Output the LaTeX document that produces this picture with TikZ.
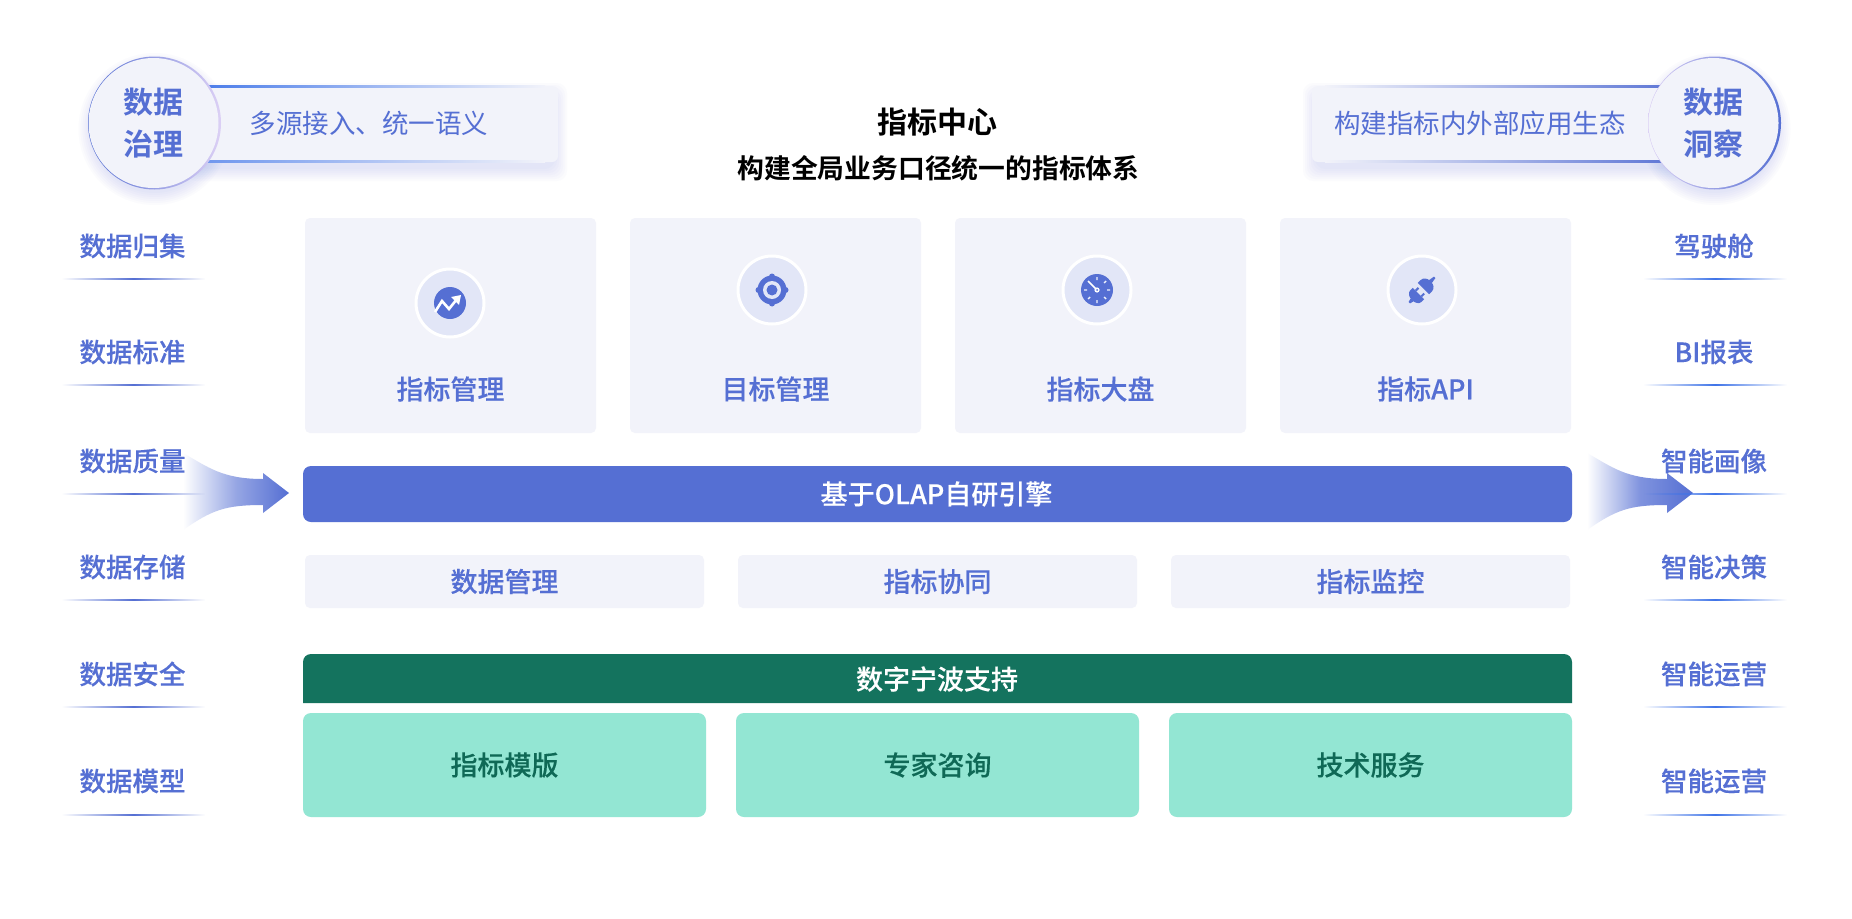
\documentclass[tikz,border=0pt]{standalone}
\usepackage{fontspec}
\setmainfont{Noto Sans CJK SC Medium}[FakeBold=0.2]
\newfontfamily\cjklight{Noto Sans CJK SC}
\newfontfamily\cjkbold{Noto Sans CJK SC Bold}
\usetikzlibrary{
  calc,
  fadings,
  positioning,
}
\definecolor{barblue}{RGB}{85, 111, 211}
\definecolor{lineblue}{RGB}{63, 116, 232}
\definecolor{paleblue}{RGB}{242, 243, 250}
\definecolor{iconblue}{RGB}{226, 230, 247}
\definecolor{darkgreen}{RGB}{20, 115, 94}
\definecolor{textgreen}{RGB}{15, 105, 86}
\definecolor{lightgreen}{RGB}{147, 230, 211}
\definecolor{ringviolet}{RGB}{220, 208, 245}
\tikzfading[name=linefade, left color=transparent!100, right color=transparent!100, middle color=transparent!0]
\tikzstyle{base} = [rectangle, inner sep=0, outer sep=0]
\tikzstyle{cardbox} = [base, fill=paleblue, rounded corners=5pt, minimum width=291, minimum height=215]
\tikzstyle{toolbox} = [base, fill=paleblue, rounded corners=5pt, minimum width=399, minimum height=53, text=barblue, font=\fontsize{27}{32}\selectfont]
\tikzstyle{greenbox} = [base, fill=lightgreen, rounded corners=8pt, minimum width=403, minimum height=104, text=textgreen, font=\fontsize{27}{32}\selectfont]
\tikzstyle{cardtext} = [base, text=barblue, font=\fontsize{27}{32}\selectfont]
\tikzstyle{sidetext} = [base, text=barblue, font=\fontsize{26.5}{32}\selectfont]
\tikzstyle{bartext} = [base, text=white, font=\fontsize{27}{32}\selectfont]
\tikzstyle{iconring} = [circle, inner sep=0, fill=iconblue, draw=white, line width=3pt, minimum size=68]
\tikzstyle{pill} = [base, fill=paleblue, rounded corners=6pt, minimum height=76, text=barblue]
\tikzstyle{glow} = [barblue, opacity=0.022]
\tikzstyle{orbbase} = [circle, inner sep=0, minimum size=133]
\tikzstyle{orbtext} = [circle, inner sep=0, minimum size=130, fill=paleblue, text=barblue, align=center, font=\cjkbold\fontsize{30}{42}\selectfont]
\tikzstyle{underline} = [barblue, path fading=linefade, fit fading=false, fading transform={xshift=133.5pt, xscale=2.86, yscale=20}]
\tikzstyle{underlineb} = [lineblue, path fading=linefade, fit fading=false, fading transform={xshift=1715pt, xscale=2.86, yscale=20}]

\begin{document}
\begin{tikzpicture}[x=1pt, y=-1pt, node distance=0mm and 34pt]
  \useasboundingbox[fill=white] (0,0) rectangle (1852,918);

  % flow arrows
  \shade[left color=white, right color=barblue, middle color=barblue!62!white] (183,453) .. controls (208,467) and (222,479) .. (263,479) -- (263,473) -- (289,493) -- (263,513) -- (263,505) .. controls (225,505) and (212,510) .. (183,530) -- cycle;
  \shade[left color=white, right color=barblue, middle color=barblue!75!white] (1587,453) .. controls (1612,467) and (1626,479) .. (1667,479) -- (1667,473) -- (1693,493) -- (1667,513) -- (1667,505) .. controls (1629,505) and (1616,510) .. (1587,530) -- cycle;

  % soft glow under the header
  \foreach \s in {2,4,...,14} {
    \fill[glow, rounded corners=10pt] (200-\s,97-\s) rectangle (553+\s,167+\s);
    \fill[glow, rounded corners=10pt] (1317-\s,97-\s) rectangle (1670+\s,167+\s);
    \fill[glow] (154.5,129) circle (62+\s);
    \fill[glow] (1714.5,129) circle (62+\s);
  }

  % header pills
  \node[pill, minimum width=378, anchor=west] (sourcepill) at (180,124) {};
  \node[pill, minimum width=378, anchor=east] (ecopill) at (1690,124) {};
  \shade[left color=lineblue, right color=paleblue] (180,85.5) rectangle (545,87.5);
  \shade[left color=lineblue!80!white, right color=paleblue] (180,160.5) rectangle (545,162.5);
  \shade[left color=paleblue, right color=barblue] (1325,85.5) rectangle (1690,87.5);
  \shade[left color=paleblue, right color=barblue] (1325,160.5) rectangle (1690,162.5);
  \node[base, text=barblue, font=\cjklight\fontsize{26.5}{32}\selectfont] (sourcetext) at (369,123) {多源接入、统一语义};
  \node[base, text=barblue, font=\cjklight\fontsize{26.5}{32}\selectfont] (ecotext) at (1480,123) {构建指标内外部应用生态};

  \node[orbbase, left color=barblue, right color=ringviolet] (governbase) at (154.5,123) {};
  \node[orbtext] (govern) at ([xshift=-1pt]governbase) {数据\\治理};
  \node[orbbase, left color=ringviolet, right color=barblue] (insightbase) at (1714.5,123) {};
  \node[orbtext] (insight) at ([xshift=-1pt]insightbase) {数据\\洞察};

  % title
  \node[base, font=\cjkbold\fontsize{30}{36}\selectfont] (title) at (937.5,122) {指标中心};
  \node[base, font=\cjkbold\fontsize{26.8}{32}\selectfont] (subtitle) at (938.5,168) {构建全局业务口径统一的指标体系};

  % left column
  \node[sidetext] (left1) at (132.5,246) {数据归集};
  \node[sidetext] (left2) at (132.5,352) {数据标准};
  \node[sidetext] (left3) at (132.5,461) {数据质量};
  \node[sidetext] (left4) at (132.5,567) {数据存储};
  \node[sidetext] (left5) at (132.5,674) {数据安全};
  \node[sidetext] (left6) at (132.5,781) {数据模型};
  \fill[underline] (62,278) rectangle (205,280);
  \fill[underline] (62,384) rectangle (205,386);
  \fill[underline] (62,493) rectangle (205,495);
  \fill[underline] (62,599) rectangle (205,601);
  \fill[underline] (62,706) rectangle (205,708);
  \fill[underline] (62,814) rectangle (205,816);

  % right column
  \node[sidetext] (right1) at (1714,246) {驾驶舱};
  \node[sidetext] (right2) at (1714,352) {BI报表};
  \node[sidetext] (right3) at (1714,461) {智能画像};
  \node[sidetext] (right4) at (1714,567) {智能决策};
  \node[sidetext] (right5) at (1714,674) {智能运营};
  \node[sidetext] (right6) at (1714,781) {智能运营};
  \fill[underlineb] (1643,278) rectangle (1787,280);
  \fill[underlineb] (1643,384) rectangle (1787,386);
  \fill[underlineb] (1643,493) rectangle (1787,495);
  \fill[underlineb] (1643,599) rectangle (1787,601);
  \fill[underlineb] (1643,706) rectangle (1787,708);
  \fill[underlineb] (1643,814) rectangle (1787,816);

  % cards
  \node[cardbox, anchor=north west] (card1) at (305,218) {};
  \node[cardbox] (card2) [right=of card1] {};
  \node[cardbox] (card3) [right=of card2] {};
  \node[cardbox] (card4) [right=of card3] {};
  \node[cardtext] (card1text) at ([yshift=44pt]card1.south) {指标管理};
  \node[cardtext] (card2text) at ([yshift=44pt]card2.south) {目标管理};
  \node[cardtext] (card3text) at ([yshift=44pt]card3.south) {指标大盘};
  \node[cardtext] (card4text) at ([yshift=44pt]card4.south) {指标API};
  \node[iconring] (icon1) at (450,303) {};
  \node[iconring] (icon2) at (772,290) {};
  \node[iconring] (icon3) at (1097,290) {};
  \node[iconring] (icon4) at (1422,290) {};

  \begin{scope}[shift={(icon1.center)}]
    \fill[barblue] (0,0) circle (16);
    \draw[white, line width=2.6pt] (-15,9) -- (-8,-2) -- (-1,6) -- (7,-4);
    \fill[white] (11,-8) -- (1,-6) -- (9,2) -- cycle;
  \end{scope}
  \begin{scope}[shift={(icon2.center)}]
    \fill[barblue] (0,0) circle (14.5);
    \fill[barblue] (0,-13.5) circle (3) (0,13.5) circle (3) (-13.5,0) circle (3) (13.5,0) circle (3);
    \fill[iconblue] (0,0) circle (9);
    \fill[barblue] (0,0) circle (5.5);
  \end{scope}
  \begin{scope}[shift={(icon3.center)}]
    \fill[barblue] (0,0) circle (16);
    \draw[white!90!barblue, line width=1.4pt] (0,-13) -- (0,-10) (13,0) -- (10,0) (0,13) -- (0,10) (-13,0) -- (-10,0) (9,-9) -- (7,-7) (9,9) -- (7,7) (-9,9) -- (-7,7);
    \draw[white, line width=1.5pt] (-9,-9) -- (-1,-1);
    \fill[white] (0,0) circle (2.6);
    \fill[barblue] (0,0) circle (1);
  \end{scope}
  \begin{scope}[shift={(icon4.center)}, rotate=45]
    \fill[barblue] (2,-8) -- (2,8) -- (6,8) .. controls (10,8) and (12,4) .. (12,2) -- (18,1) -- (18,-1) -- (12,-2) .. controls (12,-4) and (10,-8) .. (6,-8) -- cycle;
    \fill[barblue] (-5,-8) -- (-5,8) -- (-9,8) .. controls (-12,8) and (-14,4) .. (-14,2) -- (-18,1) -- (-18,-1) -- (-14,-2) .. controls (-14,-4) and (-12,-8) .. (-9,-8) -- cycle;
    \fill[barblue] (-5,-5) rectangle (-1,-3) (-5,3) rectangle (-1,5);
  \end{scope}

  % engine bar
  \node[base, fill=barblue, rounded corners=8pt, minimum width=1269, minimum height=56, anchor=north west] (engine) at (303,466) {};
  \node[bartext] (enginetext) at (936.5,494) {基于OLAP自研引擎};

  % middle row
  \node[toolbox, anchor=north west] (tool1) at (305,555) {数据管理};
  \node[toolbox] (tool2) [right=of tool1] {指标协同};
  \node[toolbox] (tool3) [right=of tool2] {指标监控};

  % support
  \fill[darkgreen] (303,703) [rounded corners=8pt] -- (303,654) -- (1572,654) [sharp corners] -- (1572,703) -- cycle;
  \node[bartext] (supporttext) at (937,679) {数字宁波支持};
  \node[greenbox, anchor=north west] (green1) at (303,713) {指标模版};
  \node[greenbox] (green2) [right=30pt of green1] {专家咨询};
  \node[greenbox] (green3) [right=30pt of green2] {技术服务};
\end{tikzpicture}
\end{document}
